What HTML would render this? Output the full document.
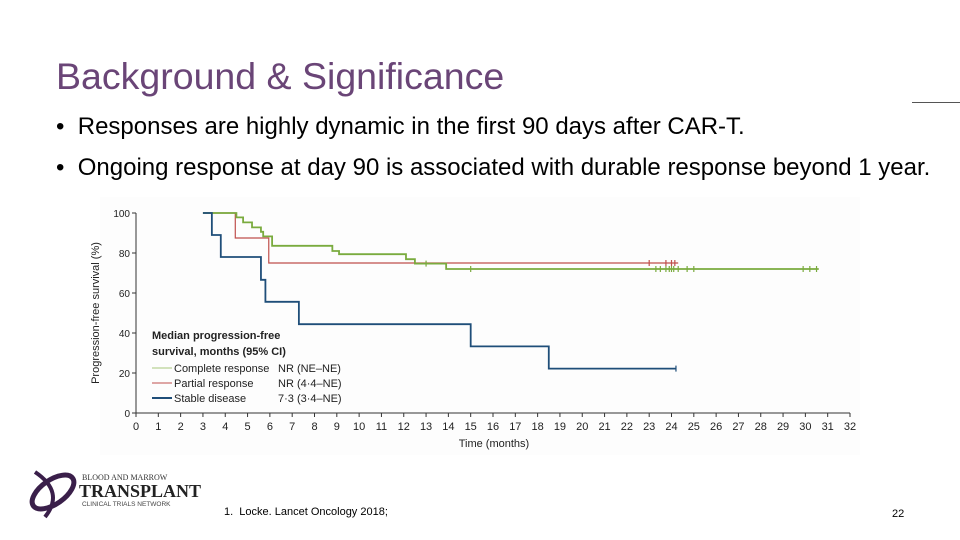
<!DOCTYPE html>
<html><head><meta charset="utf-8"><style>
body{margin:0;width:960px;height:540px;background:#fff;position:relative;overflow:hidden;font-family:"Liberation Sans",sans-serif}
.t{position:absolute;white-space:nowrap}
</style></head><body>
<div class="t" style="left:56px;top:55px;font-size:37.5px;color:#6a4577">Background &amp; Significance</div>
<div style="position:absolute;left:912px;top:102px;width:48px;height:1px;background:#555"></div>
<div class="t" style="left:56px;top:113px;font-size:24px;color:#000">•&nbsp;&nbsp;Responses are highly dynamic in the first 90 days after CAR-T.</div>
<div class="t" style="left:56px;top:154px;font-size:24px;color:#000">•&nbsp;&nbsp;Ongoing response at day 90 is associated with durable response beyond 1 year.</div>
<svg id="chart" width="960" height="540" style="position:absolute;left:0;top:0" font-family="Liberation Sans, sans-serif"></svg>
<div style="position:absolute;left:25px;top:462px;width:170px;height:58px">
<svg width="60" height="58" style="position:absolute;left:0;top:0"><ellipse cx="28" cy="30" rx="24" ry="12" transform="rotate(-35 28 30)" fill="none" stroke="#3a1f4a" stroke-width="5"/><path d="M10 10 Q40 30 20 55" fill="none" stroke="#3a1f4a" stroke-width="4"/></svg>
<div class="t" style="left:57px;top:11px;font-size:8px;font-family:'Liberation Serif',serif;color:#333">BLOOD AND MARROW</div>
<div class="t" style="left:54px;top:19px;font-size:18px;font-weight:bold;font-family:'Liberation Serif',serif;color:#222">TRANSPLANT</div>
<div class="t" style="left:57px;top:39px;font-size:6.5px;color:#444">CLINICAL TRIALS NETWORK</div>
</div>
<div class="t" style="left:224px;top:506px;font-size:11px;color:#000">1.&nbsp;&nbsp;Locke. Lancet Oncology 2018;</div>
<div class="t" style="left:892px;top:508px;font-size:11px;color:#000">22</div>
<script>
const xTicks=[0,1,2,3,4,5,6,7,8,9,10,11,12,13,14,15,16,17,18,19,20,21,22,23,24,25,26,27,28,29,30,31,32];
const yTicks=[0,20,40,60,80,100];
const crTimes=[3,4.5,4.8,5.2,5.6,5.7,6.1,8.8,9.1,12.1,12.5,13.9,30.6];
const crValues=[100,97.8,95.3,92.8,90.6,88.3,83.6,81,79.4,76.9,74.7,72,72];
const crCensor=[13,15,23.3,23.5,23.75,23.9,24,24.1,24.3,24.7,25,29.9,30.2,30.5];
const prTimes=[3,4.45,5.95,24.3];
const prValues=[100,87.5,75,75];
const prCensor=[23,23.75,24,24.15];
const sdTimes=[3,3.4,3.8,5.6,5.8,7.3,15,18.5,24.2];
const sdValues=[100,89,78,66.6,55.6,44.4,33.3,22.2,22.2];
const sdCensor=[24.2];
const NS="http://www.w3.org/2000/svg";
const svg=document.getElementById('chart');
const X=t=>136+t*(714/32), Y=v=>413-v*2;
function mk(tag,at,parent){const e=document.createElementNS(NS,tag);for(const k in at)e.setAttribute(k,at[k]);(parent||svg).appendChild(e);return e;}
const bg=mk('rect',{x:100,y:197,width:760,height:258,fill:'#fdfdfd'});


const ax=mk('path',{d:`M${X(0)} ${Y(100)}V${Y(0)}H${X(32)}`,stroke:'#333',fill:'none','stroke-width':1});


xTicks.forEach(t=>{mk('line',{x1:X(t),x2:X(t),y1:Y(0),y2:Y(0)+4,stroke:'#333'});
const l=mk('text',{x:X(t),y:430,'font-size':11,'text-anchor':'middle',fill:'#222'});l.textContent=t;

});
yTicks.forEach(v=>{mk('line',{x1:X(0)-4,x2:X(0),y1:Y(v),y2:Y(v),stroke:'#333'});
const l=mk('text',{x:X(0)-6,y:Y(v)+4,'font-size':10,'text-anchor':'end',fill:'#222'});l.textContent=v;

});
const xt=mk('text',{x:X(15)-12,y:447,'font-size':11,fill:'#222'});xt.textContent='Time (months)';


const yt=mk('text',{x:0,y:0,'font-size':11,'text-anchor':'middle',fill:'#222',transform:`translate(99 313) rotate(-90)`});yt.textContent='Progression-free survival (%)';


function km(times,vals,cens,color,w,name){
let d=`M${X(times[0])} ${Y(vals[0])}`;
for(let i=1;i<times.length;i++){d+=`H${X(times[i])}V${Y(vals[i])}`;}
const p=mk('path',{d,stroke:color,fill:'none','stroke-width':w});


const last=vals[vals.length-1];
cens.forEach(t=>{let v=last;for(let i=0;i<times.length;i++)if(times[i]<=t)v=vals[i];
const c=mk('line',{x1:X(t),x2:X(t),y1:Y(v)-3,y2:Y(v)+3,stroke:color,'stroke-width':1.2});

});
}
km(prTimes,prValues,prCensor,'#c0504d',1.2,'partial-response');
km(crTimes,crValues,crCensor,'#7aab3e',1.8,'complete-response');
km(sdTimes,sdValues,sdCensor,'#1f4e79',1.8,'stable-disease');
const lg=mk('g',{});


[['Median progression-free',339],['survival, months (95% CI)',355]].forEach(([s,y])=>{const t=mk('text',{x:152,y,'font-size':11,'font-weight':'bold',fill:'#222'},lg);t.textContent=s;});
[['Complete response','NR (NE–NE)','#a8c77a',1,372],['Partial response','NR (4·4–NE)','#c0504d',1,387],['Stable disease','7·3 (3·4–NE)','#1f4e79',2,402]].forEach(([a,b,c,w,y])=>{
const le=mk('g',{},lg);


mk('line',{x1:152,x2:172,y1:y-4,y2:y-4,stroke:c,'stroke-width':w},le);
const t1=mk('text',{x:174,y,'font-size':11,fill:'#222'},le);t1.textContent=a;
const t2=mk('text',{x:278,y,'font-size':11,fill:'#222'},le);t2.textContent=b;});
</script>
</body></html>
